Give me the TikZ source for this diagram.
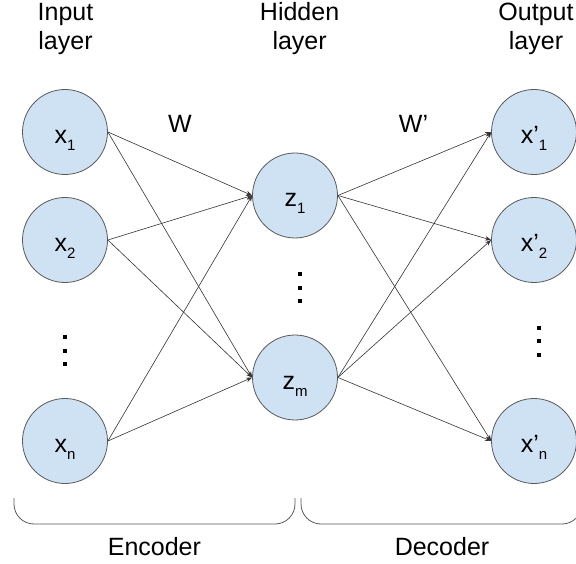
\documentclass[tikz,border=0pt]{standalone}
\usepackage{fontspec}
\setmainfont{Liberation Sans}
\usetikzlibrary{arrows.meta}
\definecolor{nodefill}{HTML}{CFE2F3}
\definecolor{nodeline}{HTML}{595959}
\definecolor{edgecol}{HTML}{333333}
\newcommand{\lsub}[1]{\raisebox{-7pt}{\fontsize{15}{18}\selectfont #1}}
\begin{document}
\begin{tikzpicture}[x=1pt,y=-1pt,
  neuron/.style={circle, draw=nodeline, line width=0.8pt, fill=nodefill, minimum size=85pt, inner sep=0pt, text height=25pt, text depth=2pt, font=\fontsize{25}{30}\selectfont},
  conn/.style={draw=edgecol, line width=0.6pt, -{Stealth[length=6pt,width=4.5pt]}},
  title/.style={align=center, anchor=base, inner sep=0pt, font=\fontsize{25}{29.3}\selectfont},
  lbl/.style={anchor=base, inner sep=0pt, font=\fontsize{25}{30}\selectfont},
  brk/.style={draw=nodeline, line width=0.8pt, rounded corners=20pt},
  dotmark/.style={fill=black, minimum size=4pt, inner sep=0pt, rectangle}
]
\useasboundingbox (0,0) rectangle (576,564);

% titles (base anchor = baseline of the last line)
\node[title] (tin) at (65.5,50) {Input\\layer};
\node[title] (thid) at (299.6,50) {Hidden\\layer};
\node[title] (tout) at (536,50) {Output\\layer};

% neurons
\node[neuron] (x1) at (65,132) {x\lsub{1}};
\node[neuron] (x2) at (65,240) {x\lsub{2}};
\node[neuron] (xn) at (65,441) {x\lsub{n}};
\node[neuron] (z1) at (295,195.5) {z\lsub{1}};
\node[neuron] (zm) at (295,377.5) {z\lsub{m}};
\node[neuron] (y1) at (534,132) {x’\lsub{1}};
\node[neuron] (y2) at (534,240) {x’\lsub{2}};
\node[neuron] (yn) at (534,441) {x’\lsub{n}};

% dots
\node[dotmark] (da1) at (65,337) {};
\node[dotmark] (da2) at (65,350.5) {};
\node[dotmark] (da3) at (65,364) {};
\node[dotmark] (db1) at (299.6,274.3) {};
\node[dotmark] (db2) at (299.6,287.6) {};
\node[dotmark] (db3) at (299.6,301) {};
\node[dotmark] (dc1) at (539,327.7) {};
\node[dotmark] (dc2) at (539,341.4) {};
\node[dotmark] (dc3) at (539,355) {};

% connections
\foreach \s in {x1,x2,xn} \foreach \t in {z1,zm} \draw[conn] (\s.east) -- (\t.west);
\foreach \s in {z1,zm} \foreach \t in {y1,y2,yn} \draw[conn] (\s.east) -- (\t.west);

% weight labels
\node[lbl] (W) at (180,132.7) {W};
\node[lbl] (Wp) at (413.5,132.7) {W’};

% brackets
\coordinate (ea) at (14,498);
\coordinate (eb) at (14,524);
\coordinate (ec) at (295,524);
\coordinate (ed) at (295,498);
\draw[brk] (ea) -- (eb) -- (ec) -- (ed);
\coordinate (da) at (301,498);
\coordinate (db) at (301,524);
\coordinate (dcc) at (582,524);
\coordinate (dd) at (582,498);
\draw[brk] (da) -- (db) -- (dcc) -- (dd);

\node[lbl] (enc) at (154.4,555) {Encoder};
\node[lbl] (dec) at (442,555) {Decoder};
\end{tikzpicture}
\end{document}
